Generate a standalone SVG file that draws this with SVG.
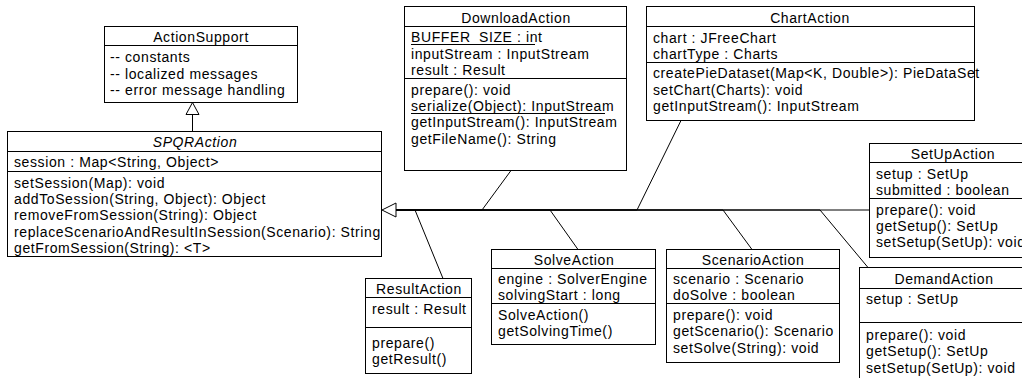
<svg xmlns="http://www.w3.org/2000/svg" width="1022" height="378" viewBox="0 0 1022 378">
<style>
.box{fill:#fff;stroke:#000;stroke-width:1}
.sep{stroke:#000;stroke-width:1}
text{font-family:"Liberation Sans",Arial,sans-serif;font-size:14px;letter-spacing:0.6px;fill:#000}
.t{text-anchor:middle}
.i{font-style:italic}
.ul{stroke:#000;stroke-width:1}
.con{fill:none;stroke:#000;stroke-width:1}
.head{fill:#fff;stroke:#000;stroke-width:1}
</style>
<rect width="1022" height="378" fill="#fff"/>
<g id="connectors">
<path class="con" d="M192.5,131 L192.5,114.5"/>
<path class="con" d="M443,278.5 L415,210 L396,210"/>
<path class="con" d="M511,170.5 L482,210 L396,210"/>
<path class="con" d="M578,249.5 L550,210 L396,210"/>
<path class="con" d="M681,120.5 L637,210 L396,210"/>
<path class="con" d="M752,249.5 L723,210 L396,210"/>
<path class="con" d="M868,267.5 L820,210 L396,210"/>
<path class="con" d="M869.5,210 L396,210"/>
<path class="head" d="M192.5,102.5 L199,114.5 L186,114.5 Z"/>
<path class="head" d="M382,210 L396,203 L396,217 Z"/>
</g>
<g id="ActionSupport">
<rect class="box" x="104.5" y="26.5" width="193" height="76"/>
<line class="sep" x1="104.5" y1="45.5" x2="297.5" y2="45.5"/>
<text class="t" x="201" y="42">ActionSupport</text>
<text x="110" y="62">-- constants</text>
<text x="110" y="78.5">-- localized messages</text>
<text x="110" y="95">-- error message handling</text>
</g>
<g id="SPQRAction">
<rect class="box" x="7.5" y="131.5" width="374" height="125"/>
<line class="sep" x1="7.5" y1="151.5" x2="381.5" y2="151.5"/>
<line class="sep" x1="7.5" y1="171.5" x2="381.5" y2="171.5"/>
<text class="t i" x="195" y="147">SPQRAction</text>
<text x="14" y="167">session : Map&lt;String, Object&gt;</text>
<text x="14" y="187.5">setSession(Map): void</text>
<text x="14" y="204">addToSession(String, Object): Object</text>
<text x="14" y="220.3">removeFromSession(String): Object</text>
<text x="14" y="236.6">replaceScenarioAndResultInSession(Scenario): String</text>
<text x="14" y="253">getFromSession(String): &lt;T&gt;</text>
</g>
<g id="DownloadAction">
<rect class="box" x="404.5" y="6.5" width="222" height="164"/>
<line class="sep" x1="404.5" y1="26.5" x2="626.5" y2="26.5"/>
<line class="sep" x1="404.5" y1="78.5" x2="626.5" y2="78.5"/>
<text class="t" x="516" y="22.5">DownloadAction</text>
<text x="411" y="42">BUFFER_SIZE : int</text>
<line class="ul" x1="411" y1="44.5" x2="535" y2="44.5"/>
<text x="411" y="59">inputStream : InputStream</text>
<text x="411" y="75.3">result : Result</text>
<text x="411" y="94.5">prepare(): void</text>
<text x="411" y="111">serialize(Object): InputStream</text>
<line class="ul" x1="411" y1="113.5" x2="605" y2="113.5"/>
<text x="411" y="127.3">getInputStream(): InputStream</text>
<text x="411" y="143.7">getFileName(): String</text>
</g>
<g id="ChartAction">
<rect class="box" x="646.5" y="6.5" width="328" height="114"/>
<line class="sep" x1="646.5" y1="26.5" x2="974.5" y2="26.5"/>
<line class="sep" x1="646.5" y1="62.5" x2="974.5" y2="62.5"/>
<text class="t" x="810" y="22.5">ChartAction</text>
<text x="653" y="42.5">chart : JFreeChart</text>
<text x="653" y="59">chartType : Charts</text>
<text x="653" y="78.3">createPieDataset(Map&lt;K, Double&gt;): PieDataSet</text>
<text x="653" y="94.7">setChart(Charts): void</text>
<text x="653" y="111">getInputStream(): InputStream</text>
</g>
<g id="SetUpAction">
<rect class="box" x="869.5" y="143.5" width="167" height="114"/>
<line class="sep" x1="869.5" y1="162.5" x2="1036.5" y2="162.5"/>
<line class="sep" x1="869.5" y1="198.5" x2="1036.5" y2="198.5"/>
<text class="t" x="953" y="159">SetUpAction</text>
<text x="876" y="178.5">setup : SetUp</text>
<text x="876" y="195">submitted : boolean</text>
<text x="876" y="214.5">prepare(): void</text>
<text x="876" y="230.8">getSetup(): SetUp</text>
<text x="876" y="247">setSetup(SetUp): void</text>
</g>
<g id="DemandAction">
<rect class="box" x="859.5" y="267.5" width="169" height="120"/>
<line class="sep" x1="859.5" y1="288.5" x2="1028.5" y2="288.5"/>
<line class="sep" x1="859.5" y1="322.5" x2="1028.5" y2="322.5"/>
<text class="t" x="944" y="284">DemandAction</text>
<text x="866" y="304">setup : SetUp</text>
<text x="866" y="339.5">prepare(): void</text>
<text x="866" y="356">getSetup(): SetUp</text>
<text x="866" y="372.5">setSetup(SetUp): void</text>
</g>
<g id="ScenarioAction">
<rect class="box" x="666.5" y="249.5" width="173" height="113"/>
<line class="sep" x1="666.5" y1="268.5" x2="839.5" y2="268.5"/>
<line class="sep" x1="666.5" y1="303.5" x2="839.5" y2="303.5"/>
<text class="t" x="753" y="264.5">ScenarioAction</text>
<text x="673" y="283.5">scenario : Scenario</text>
<text x="673" y="300">doSolve : boolean</text>
<text x="673" y="320">prepare(): void</text>
<text x="673" y="336.4">getScenario(): Scenario</text>
<text x="673" y="352.8">setSolve(String): void</text>
</g>
<g id="SolveAction">
<rect class="box" x="491.5" y="249.5" width="164" height="95"/>
<line class="sep" x1="491.5" y1="268.5" x2="655.5" y2="268.5"/>
<line class="sep" x1="491.5" y1="303.5" x2="655.5" y2="303.5"/>
<text class="t" x="574" y="264.5">SolveAction</text>
<text x="498" y="283.5">engine : SolverEngine</text>
<text x="498" y="300">solvingStart : long</text>
<text x="498" y="320">SolveAction()</text>
<text x="498" y="336.4">getSolvingTime()</text>
</g>
<g id="ResultAction">
<rect class="box" x="365.5" y="278.5" width="106" height="95"/>
<line class="sep" x1="365.5" y1="297.5" x2="471.5" y2="297.5"/>
<line class="sep" x1="365.5" y1="327.5" x2="471.5" y2="327.5"/>
<text class="t" x="419" y="293.5">ResultAction</text>
<text x="372" y="313.5">result : Result</text>
<text x="372" y="348">prepare()</text>
<text x="372" y="364.4">getResult()</text>
</g>
</svg>
